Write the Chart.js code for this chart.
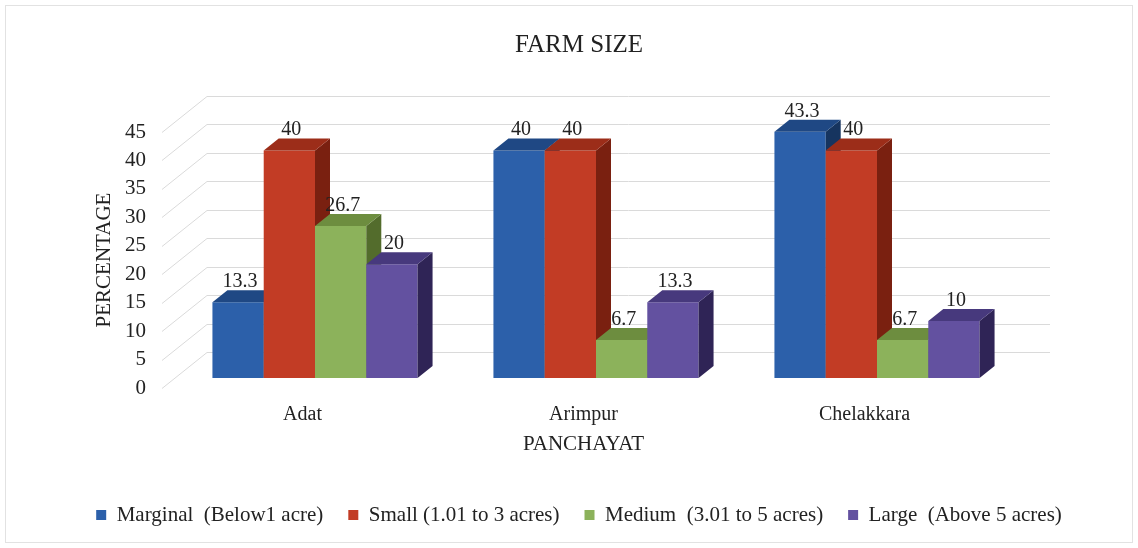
<!DOCTYPE html>
<html>
<head>
<meta charset="utf-8">
<title>Farm size</title>
<script src="https://cdn.jsdelivr.net/npm/chart.js@4.4.1/dist/chart.umd.min.js"></script>
<style>
  html, body { margin: 0; padding: 0; background: #fff; }
  canvas { display: block; }
</style>
</head>
<body>
<canvas id="myChart" width="1138" height="548"></canvas>
<script>
// data
var panchayats = ['Adat', 'Arimpur', 'Chelakkara'];
var marginal = [13.3, 40, 43.3];
var small = [40, 40, 40];
var medium = [26.7, 6.7, 6.7];
var large = [20, 13.3, 10];
var seriesNames = ['Marginal  (Below1 acre)', 'Small (1.01 to 3 acres)', 'Medium  (3.01 to 5 acres)', 'Large  (Above 5 acres)'];
var yMax = 45, yStep = 5;

var serif = '"Liberation Serif", "Times New Roman", serif';
var frontCol = ['#2c60aa', '#c23c25', '#8cb25b', '#6351a0'];
var topCol = ['#1f4884', '#9c2d19', '#6d8d3f', '#47397d'];
var sideCol = ['#16345f', '#7a2010', '#536c2c', '#2f2456'];

// fake 3d: wall depth, where the bar front sits, and the bar depth
var wallX = 45, wallY = -36;
var barX = 12.5, barY = -10;
var sideX = 15, sideY = -12;

function poly(ctx, pts, col) {
  ctx.beginPath();
  ctx.moveTo(pts[0][0], pts[0][1]);
  for (var k = 1; k < pts.length; k++) ctx.lineTo(pts[k][0], pts[k][1]);
  ctx.closePath();
  ctx.fillStyle = col;
  ctx.fill();
}

var fake3d = {
  id: 'fake3d',
  beforeDraw: function(chart) {
    var ctx = chart.ctx;
    ctx.save();
    ctx.strokeStyle = '#e2e2e2';
    ctx.lineWidth = 1;
    ctx.strokeRect(5.5, 5.5, chart.width - 11, chart.height - 11);
    ctx.restore();
  },
  beforeDatasetsDraw: function(chart) {
    var ctx = chart.ctx, area = chart.chartArea, ys = chart.scales.y;
    ctx.save();
    // walls
    ctx.strokeStyle = '#dadada';
    ctx.lineWidth = 1;
    for (var v = 0; v <= yMax; v += yStep) {
      var py = Math.round(ys.getPixelForValue(v)) + 0.5;
      ctx.beginPath();
      ctx.moveTo(area.left, py);
      ctx.lineTo(area.left + wallX, py + wallY);
      ctx.lineTo(area.right + wallX, py + wallY);
      ctx.stroke();
    }
    // bars, left to right so the next front face hides the side of the last
    var n = chart.data.datasets.length;
    for (var j = 0; j < panchayats.length; j++) {
      for (var i = 0; i < n; i++) {
        var el = chart.getDatasetMeta(i).data[j];
        var p = el.getProps(['x', 'y', 'base', 'width'], true);
        var l = p.x - p.width / 2, r = p.x + p.width / 2;
        ctx.save();
        ctx.translate(barX, barY);
        el.draw(ctx);
        poly(ctx, [[r, p.y], [r + sideX, p.y + sideY], [r + sideX, p.base + sideY], [r, p.base]], sideCol[i]);
        poly(ctx, [[l, p.y], [l + sideX, p.y + sideY], [r + sideX, p.y + sideY], [r, p.y]], topCol[i]);
        ctx.restore();
      }
    }
    // value labels
    ctx.font = '20px ' + serif;
    ctx.fillStyle = '#222';
    ctx.textAlign = 'center';
    ctx.textBaseline = 'alphabetic';
    for (var i2 = 0; i2 < n; i2++) {
      var meta = chart.getDatasetMeta(i2);
      meta.data.forEach(function(el, j2) {
        var p = el.getProps(['x', 'y'], true);
        ctx.fillText(String(chart.data.datasets[i2].data[j2]), p.x + barX + 2, p.y + barY + sideY - 3);
      });
    }
    ctx.restore();
    return false;
  }
};

var ctx = document.getElementById('myChart').getContext('2d');
var myChart = new Chart(ctx, {
  type: 'bar',
  data: {
    labels: panchayats,
    datasets: [
      { label: seriesNames[0], data: marginal, backgroundColor: frontCol[0] },
      { label: seriesNames[1], data: small, backgroundColor: frontCol[1] },
      { label: seriesNames[2], data: medium, backgroundColor: frontCol[2] },
      { label: seriesNames[3], data: large, backgroundColor: frontCol[3] }
    ]
  },
  options: {
    responsive: false,
    animation: false,
    datasets: { bar: { categoryPercentage: 0.73, barPercentage: 1.0, borderWidth: 0 } },
    layout: { padding: { top: 0, left: 20, right: 0, bottom: 12.5 } },
    plugins: {
      title: {
        display: true,
        text: 'FARM SIZE',
        color: '#222',
        font: { family: serif, size: 25, weight: 'normal' },
        padding: { top: 30, bottom: 72 }
      },
      legend: {
        position: 'bottom',
        labels: {
          boxWidth: 10,
          boxHeight: 10,
          padding: 25,
          color: '#222',
          font: { family: serif, size: 21 }
        }
      },
      tooltip: { enabled: false }
    },
    scales: {
      x: {
        grid: { display: false, drawTicks: false },
        border: { display: false },
        ticks: { color: '#222', padding: 15, font: { family: serif, size: 20 } },
        title: {
          display: true,
          text: 'PANCHAYAT',
          color: '#222',
          font: { family: serif, size: 21 },
          padding: { top: 0, bottom: 22 }
        },
        afterFit: function(s) { s.height = 91.5; }
      },
      y: {
        min: 0,
        max: yMax,
        grid: { display: false, drawTicks: false },
        border: { display: false },
        ticks: { stepSize: yStep, color: '#222', padding: 16, font: { family: serif, size: 21 } },
        title: {
          display: true,
          text: 'PERCENTAGE',
          color: '#222',
          font: { family: serif, size: 21 },
          padding: { top: 72, bottom: 0 }
        },
        afterFit: function(s) { s.width = 142; }
      },
      yR: {
        type: 'linear',
        position: 'right',
        grid: { display: false, drawTicks: false },
        border: { display: false },
        ticks: { display: false },
        afterFit: function(s) { s.width = 133; }
      }
    }
  },
  plugins: [fake3d]
});
</script>
</body>
</html>
